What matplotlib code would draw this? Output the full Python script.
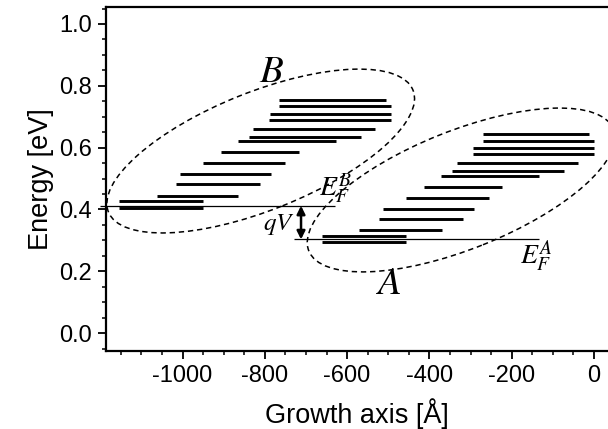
import matplotlib
matplotlib.use("Agg")
import matplotlib.pyplot as plt
import matplotlib.transforms as mtransforms
from matplotlib.patches import Ellipse
from matplotlib.ticker import MultipleLocator, FormatStrFormatter

plt.rcParams['font.family'] = ['Liberation Sans', 'DejaVu Sans']
plt.rcParams['mathtext.fontset'] = 'stix'
plt.rcParams['axes.unicode_minus'] = False

# subband levels of well B: energy [eV], start / end along growth axis [A]
B_energy = [0.754, 0.735, 0.709, 0.689, 0.659, 0.633, 0.621, 0.585, 0.549, 0.514, 0.481, 0.443, 0.426, 0.406]
B_start = [-765, -765, -787, -789, -828, -838, -865, -907, -951, -1006, -1016, -1063, -1154, -1154]
B_end = [-506, -494, -493, -493, -532, -567, -628, -717, -751, -786, -812, -864, -951, -951]

# subband levels of well A
A_energy = [0.644, 0.622, 0.598, 0.579, 0.549, 0.523, 0.509, 0.472, 0.437, 0.403, 0.369, 0.332, 0.315, 0.294]
A_start = [-270, -270, -295, -295, -334, -345, -371, -413, -457, -512, -523, -570, -661, -661]
A_end = [-13, 0, 0, 0, -38, -73, -134, -224, -256, -292, -319, -370, -457, -457]

# Fermi levels: energy, start, end
EF_B = (0.412, -1200, -629)
EF_A = (0.303, -728, -134)

# ellipse centres (data) around each group
ell_B = (-810, 0.589)
ell_A = (-323, 0.463)

fig = plt.figure(figsize=(6.08, 4.29), dpi=100)
ax = fig.add_axes([0.1743, 0.1818, 0.8257, 0.8019])

ax.hlines(B_energy, B_start, B_end, colors='black', lw=2.1)
ax.hlines(A_energy, A_start, A_end, colors='black', lw=2.1)
ax.hlines(EF_B[0], EF_B[1], EF_B[2], colors='black', lw=0.9, clip_on=False)
ax.hlines(EF_A[0], EF_A[1], EF_A[2], colors='black', lw=0.9)

# qV arrow between the Fermi levels
ax.annotate('', xy=(-712, EF_A[0]), xytext=(-712, EF_B[0]),
            arrowprops=dict(arrowstyle='<|-|>', color='black', lw=1.8,
                            mutation_scale=12, shrinkA=0, shrinkB=0))
ax.text(-727, 0.352, '$qV$', fontsize=18, ha='right', va='center')

# dashed ellipses, size given in inches
for c in (ell_B, ell_A):
    tr = fig.dpi_scale_trans + mtransforms.ScaledTranslation(c[0], c[1], ax.transData)
    e = Ellipse((0, 0), 3.28, 1.18, angle=21.8, transform=tr, fill=False,
                edgecolor='black', lw=1.1, linestyle=(0, (3.5, 2.5)), clip_on=False)
    ax.add_patch(e)

ax.text(-784, 0.845, '$B$', fontsize=28, ha='center', va='center')
ax.text(-499, 0.159, '$A$', fontsize=28, ha='center', va='center')
ax.text(-627, 0.466, '$E_F^B$', fontsize=20, ha='center', va='center')
ax.text(-141, 0.246, '$E_F^A$', fontsize=20, ha='center', va='center')

ax.set_xlim(-1186, 34)
ax.set_ylim(-0.058, 1.055)
ax.xaxis.set_major_locator(MultipleLocator(200))
ax.xaxis.set_minor_locator(MultipleLocator(50))
ax.yaxis.set_major_locator(MultipleLocator(0.2))
ax.yaxis.set_minor_locator(MultipleLocator(0.05))
ax.yaxis.set_major_formatter(FormatStrFormatter('%.1f'))

ax.spines['right'].set_visible(False)
for s in ('left', 'bottom', 'top'):
    ax.spines[s].set_linewidth(1.6)
ax.tick_params(which='major', direction='out', length=6, width=1.3, labelsize=17, pad=4)
ax.tick_params(which='minor', direction='out', length=3, width=1.1)
ax.tick_params(top=False, right=False, which='both')

ax.set_xlabel('Growth axis [Å]', fontsize=19.5, labelpad=8)
ax.set_ylabel('Energy [eV]', fontsize=19.5, labelpad=4)

fig.savefig('out.png', dpi=100)
